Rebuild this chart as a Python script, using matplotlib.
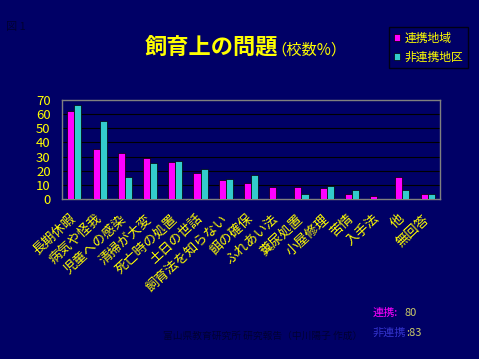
import matplotlib.pyplot as plt
import numpy as np

plt.rcParams['font.family'] = ['Noto Sans CJK JP', 'DejaVu Sans']

# Data
categories = ['長期休暇', '病気や怪我', '児童への感染', '清掃が大変', '死亡時の処置',
              '土日の世話', '飼育法を知らない', '餌の確保', 'ふれあい法', '糞尿処置',
              '小屋修理', '苦情', '入手法', '他', '無回答']
renkei = [62.4, 35.7, 32.2, 29.1, 26.3, 18.5, 13.6, 11.0, 8.2, 8.2, 7.5, 3.3, 2.3, 15.3, 3.3]
hirenkei = [66.7, 55.4, 15.3, 25.6, 27.2, 21.4, 14.3, 17.1, 0, 3.3, 9.4, 6.6, 0, 6.6, 3.3]
series_names = ['連携地域', '非連携地区']
yticks = [0, 10, 20, 30, 40, 50, 60, 70]

bg = '#000066'
yellow = '#FFFF00'
magenta = '#FF00FF'
cyan = '#33CCCC'

fig = plt.figure(figsize=(4.79, 3.59), dpi=100, facecolor=bg)
ax = fig.add_axes([0.129, 0.446, 0.790, 0.275], facecolor=bg)

x = np.arange(len(categories))
w = 0.28
b1 = ax.bar(x - w / 2, renkei, w, color=magenta, edgecolor='black', linewidth=0.5,
            label=series_names[0], zorder=3)
b2 = ax.bar(x + w / 2, hirenkei, w, color=cyan, edgecolor='black', linewidth=0.5,
            label=series_names[1], zorder=3)

ax.set_xlim(-0.5, len(categories) - 0.5)
ax.set_ylim(0, 70)
ax.set_yticks(yticks)
ax.set_yticklabels([str(v) for v in yticks], color=yellow, fontsize=9.5)
ax.tick_params(axis='y', length=0, pad=8)
ax.yaxis.grid(True, color='black', linewidth=0.8, zorder=0)

ax.set_xticks(x)
ax.set_xticklabels(categories, rotation=43, ha='right', va='center',
                   rotation_mode='anchor', color=yellow, fontsize=9.5)
ax.tick_params(axis='x', length=0, pad=13)

for s in ['left', 'top', 'right', 'bottom']:
    ax.spines[s].set_color('#808080')
    ax.spines[s].set_linewidth(1.0)

# Title
fig.text(0.303, 0.866, '飼育上の問題', color=yellow, fontsize=16, fontweight='bold',
         va='center', ha='left')
fig.text(0.566, 0.862, '（校数%）', color=yellow, fontsize=11, va='center', ha='left')

# Legend
leg = fig.legend(handles=[b1, b2], labels=series_names, loc='upper left',
                 bbox_to_anchor=(0.812, 0.925), frameon=True, fontsize=8.5,
                 handlelength=0.5, handleheight=0.5, handletextpad=0.4,
                 borderpad=0.4, labelspacing=0.5, borderaxespad=0)
leg.get_frame().set_facecolor(bg)
leg.get_frame().set_edgecolor('black')
leg.get_frame().set_linewidth(1.0)
leg.get_frame().set_boxstyle('square', pad=0)
for t in leg.get_texts():
    t.set_color(yellow)

# Small texts
fig.text(0.012, 0.925, '図 1', color='#000033', fontsize=8, va='center')
fig.text(0.777, 0.128, '連携:', color=magenta, fontsize=8, va='center')
fig.text(0.845, 0.128, '80', color='#CCCC66', fontsize=8, va='center')
fig.text(0.777, 0.073, '非連携', color='#3333CC', fontsize=8, va='center')
fig.text(0.848, 0.073, ':83', color='#CCCC66', fontsize=8, va='center')
fig.text(0.34, 0.064, '富山県教育研究所 研究報告（中川陽子 作成）', color='#000033',
         fontsize=7, va='center')

fig.savefig('out.png', dpi=100, facecolor=bg)
